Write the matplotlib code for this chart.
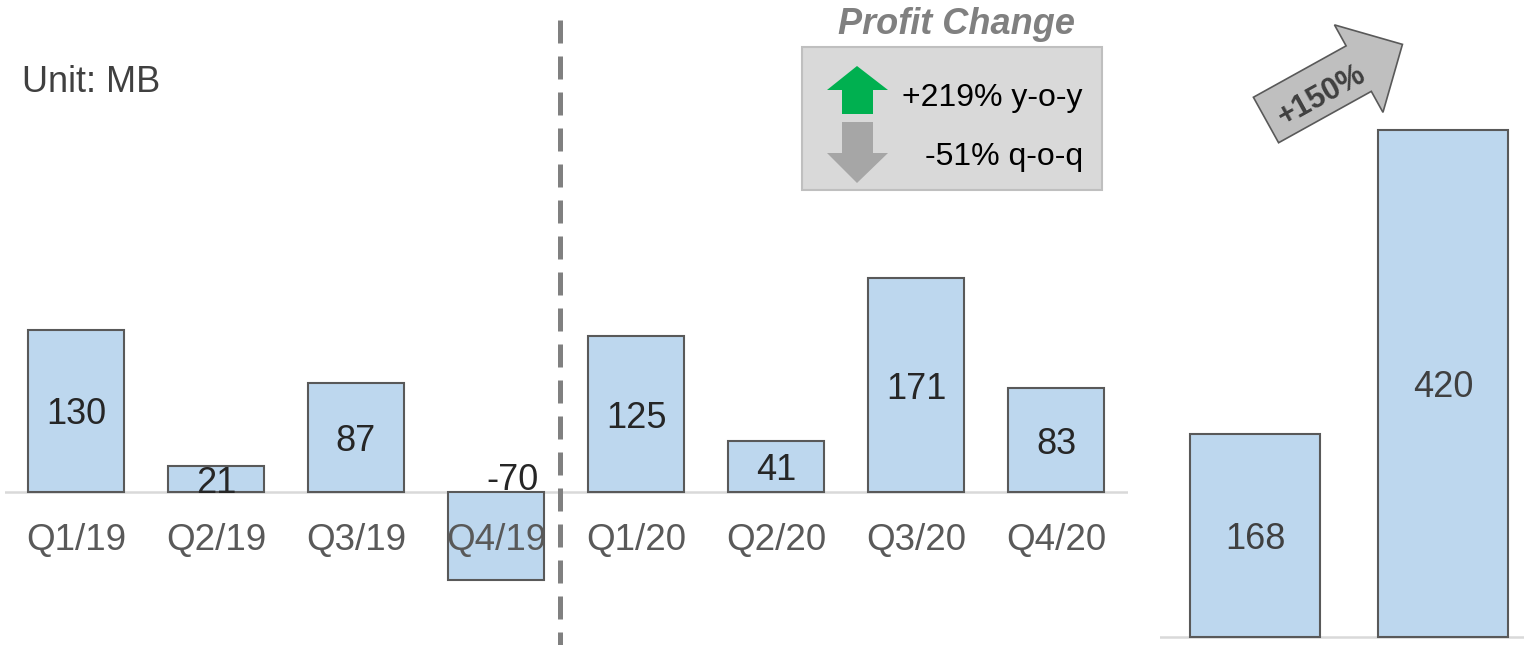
import math
import matplotlib.pyplot as plt
from matplotlib.patches import FancyArrow, Rectangle, Polygon

# quarterly profit (MB)
quarters = ["Q1/19", "Q2/19", "Q3/19", "Q4/19", "Q1/20", "Q2/20", "Q3/20", "Q4/20"]
profit_q = [130, 21, 87, -70, 125, 41, 171, 83]

# yearly profit (MB)
years = ["2019", "2020"]
profit_y = [168, 420]

yoy_text = "+219% y-o-y"
qoq_text = "-51% q-o-q"
growth_text = "+150%"

plt.rcParams['font.family'] = ['Liberation Sans', 'DejaVu Sans']

W, H = 1524, 645
fig = plt.figure(figsize=(W / 100, H / 100), dpi=100)

bar_fill = "#bdd7ee"
bar_edge = "#595959"

# ---- quarterly bars
ax1 = fig.add_axes([5 / W, 0, (1128 - 5) / W, 1])
ax1.bar(range(len(quarters)), profit_q, width=0.686, color=bar_fill,
        edgecolor=bar_edge, linewidth=1.5, zorder=2)
ax1.axhline(0, color="#d9d9d9", linewidth=1.8, zorder=1)
ax1.set_xlim(-0.507, 7.514)
ax1.set_ylim(-122.4, 393.6)
ax1.set_axisbelow(False)  # tick labels over the negative bar
ax1.spines["bottom"].set_position(("data", 0))
ax1.set_xticks(range(len(quarters)), quarters)
ax1.tick_params(axis="x", length=0, pad=22, labelsize=26.5, labelcolor="#595959")
ax1.set_yticks([])
for s in ax1.spines.values():
    s.set_visible(False)
ax1.patch.set_alpha(0)

for i, v in enumerate(profit_q):
    if v >= 0:
        ax1.annotate(str(v), (i, v / 2), xytext=(0, -3), textcoords="offset points",
                     ha="center", va="center", fontsize=26, color="#262626", zorder=3)
    else:
        ax1.annotate(str(v), (i, 0), xytext=(12, 8), textcoords="offset points",
                     ha="center", va="center", fontsize=26, color="#262626", zorder=3)

# ---- yearly bars
ax2 = fig.add_axes([1160 / W, 0, (W - 1160) / W, 1])
ax2.bar(range(len(years)), profit_y, width=0.691, color=bar_fill,
        edgecolor=bar_edge, linewidth=1.5, zorder=2)
ax2.axhline(0, color="#d9d9d9", linewidth=1.8, zorder=1)
ax2.set_xlim(-0.505, 1.431)
ax2.set_ylim(-6.6, 527.8)
ax2.set_xticks([])
ax2.set_yticks([])
for s in ax2.spines.values():
    s.set_visible(False)
ax2.patch.set_alpha(0)
for i, v in enumerate(profit_y):
    ax2.annotate(str(v), (i, v / 2), xytext=(0, -3), textcoords="offset points",
                 ha="center", va="center", fontsize=26, color="#404040", zorder=3)

# ---- overlay in pixel coords for annotations
ov = fig.add_axes([0, 0, 1, 1], zorder=5)
ov.set_xlim(0, W)
ov.set_ylim(H, 0)
ov.axis("off")
ov.patch.set_alpha(0)

ov.text(22, 82, "Unit: MB", ha="left", va="center", fontsize=26, color="#404040")

# divider
ov.plot([560, 560], [20, H], color="#808080", linewidth=3.6,
        linestyle=(0, (4.6, 2.6)))

# profit change box
ov.text(957, 24, "Profit Change", ha="center", va="center", fontsize=26,
        fontweight="bold", fontstyle="italic", color="#808080")
ov.add_patch(Rectangle((802, 47), 300, 143, facecolor="#d9d9d9",
                       edgecolor="#bfbfbf", linewidth=1.5))
ov.add_patch(Polygon([(827, 90), (857, 66), (888, 90), (873, 90), (873, 114),
                      (842, 114), (842, 90)], closed=True,
                     facecolor="#00b050", edgecolor="none"))
ov.add_patch(Polygon([(842, 122), (873, 122), (873, 153), (888, 153), (857, 183),
                      (827, 153), (842, 153)], closed=True,
                     facecolor="#a6a6a6", edgecolor="none"))
ov.text(1083, 98, yoy_text, ha="right", va="center", fontsize=23, color="#000000")
ov.text(1083, 157, qoq_text, ha="right", va="center", fontsize=23, color="#000000")

# growth arrow
ang = math.radians(29)
length = 156
x0, y0 = 1266, 120
ov.add_patch(FancyArrow(x0, y0, length * math.cos(ang), -length * math.sin(ang),
                        width=52, head_width=100, head_length=50,
                        length_includes_head=True, facecolor="#bfbfbf",
                        edgecolor="#595959", linewidth=1.2))
ov.text(1322, 96, growth_text, ha="center", va="center", rotation=29,
        rotation_mode="anchor", fontsize=22, fontweight="bold", color="#404040")

fig.savefig("out.png", dpi=100)
